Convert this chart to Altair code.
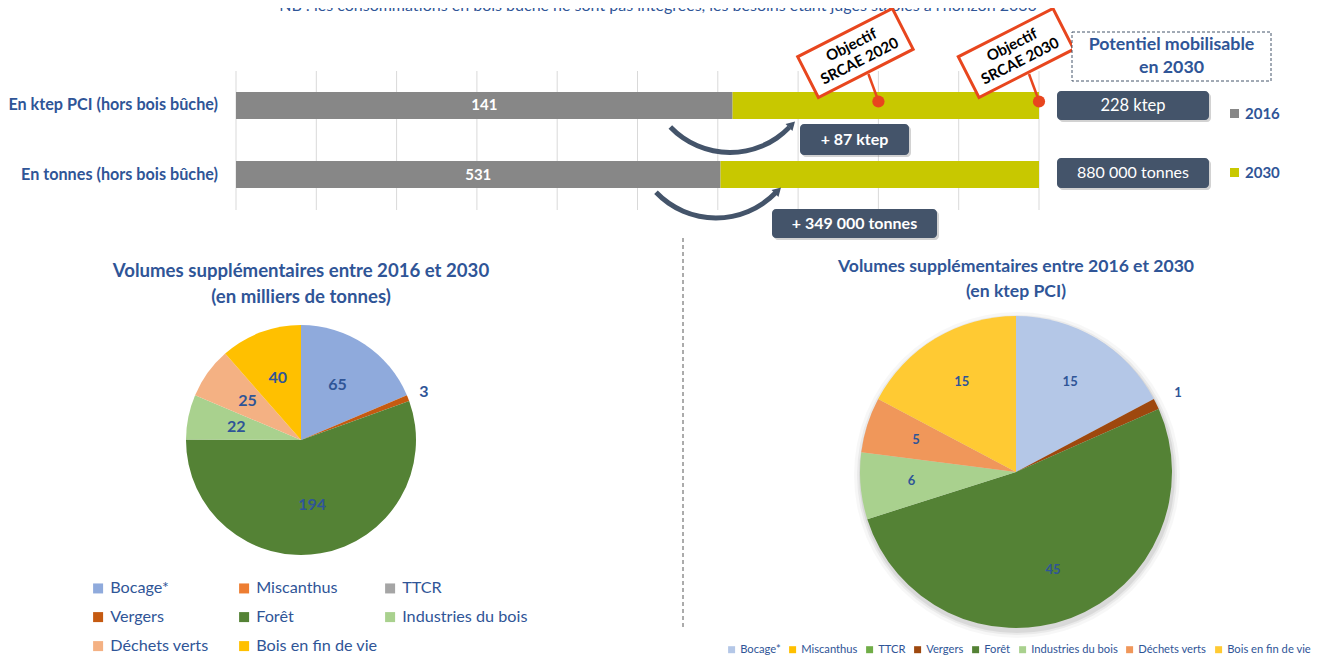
import altair as alt
import pandas as pd

# ---------------- data ----------------
NOTE = "NB : les consommations en bois bûche ne sont pas intégrées, les besoins étant jugés stables à l'horizon 2030"
rows = ["En ktep PCI (hors bois bûche)", "En tonnes (hors bois bûche)"]
years = ["2016", "2030"]
values_2016 = [141, 531]
increase_2030 = [87, 349]
total_labels = ["228 ktep", "880 000 tonnes"]
increase_labels = ["+ 87 ktep", "+ 349 000 tonnes"]
grid_ticks = [0.0, 0.1, 0.2, 0.3, 0.4, 0.5, 0.6, 0.7, 0.8, 0.9, 1.0]
srcae_labels = ["Objectif\nSRCAE 2020", "Objectif\nSRCAE 2030"]
srcae_share = [0.8, 1.0]
potentiel_title = "Potentiel mobilisable\nen 2030"

legend_categories = ["Bocage*", "Miscanthus", "TTCR", "Vergers", "Forêt",
                     "Industries du bois", "Déchets verts", "Bois en fin de vie"]
left_palette = ["#8FAADC", "#ED7D31", "#A5A5A5", "#C55A11", "#548235",
                "#A9D18E", "#F4B183", "#FFC000"]
right_palette = ["#B4C7E7", "#FFC000", "#70AD47", "#9E480E", "#548235",
                 "#A9D18E", "#F0975A", "#FFCA33"]
pie_categories = ["Bocage*", "Vergers", "Forêt", "Industries du bois",
                  "Déchets verts", "Bois en fin de vie"]
tonnes_values = [65, 3, 194, 22, 25, 40]
ktep_values = [15, 1, 45, 6, 5, 15]
left_title = "Volumes supplémentaires entre 2016 et 2030\n(en milliers de tonnes)"
right_title = "Volumes supplémentaires entre 2016 et 2030\n(en ktep PCI)"

# ---------------- styles ----------------
BLUE = "#2F5597"
DARK = "#44546A"
RED = "#E8461E"
GRAY = "#878787"
LIME = "#C8C800"
FONT = "Lato"
RECT_PATH = "M-1,-0.43L1,-0.43L1,0.43L-1,0.43Z"

ONE = pd.DataFrame({"a": [0]})

XS = alt.Scale(domain=[0, 1], range=[228, 1031], nice=False, zero=False)
YS = alt.Scale(domain=rows, range=[84, 180], paddingInner=0.609, paddingOuter=0)

long_records = []
for r, a, b in zip(rows, values_2016, increase_2030):
    long_records.append({"row": r, "year": years[0], "v": a})
    long_records.append({"row": r, "year": years[1], "v": b})
bar_long = pd.DataFrame(long_records)
wide = pd.DataFrame({"row": rows, "v16": values_2016, "inc": increase_2030})
srcae = pd.DataFrame({"share": srcae_share, "label": srcae_labels})

layers = []

# note at top (cut like the reference)
layers.append(alt.Chart(ONE).mark_text(text=NOTE, fontSize=16, color=BLUE, baseline="alphabetic")
              .encode(x=alt.value(650), y=alt.value(3)))

# grid lines
layers.append(alt.Chart(pd.DataFrame({"t": grid_ticks})).mark_rule(color="#D9D9D9", strokeWidth=1)
              .encode(x=alt.X("t:Q", scale=XS, axis=None), y=alt.value(63), y2=alt.value(202)))

# bars
layers.append(alt.Chart(bar_long).mark_bar().encode(
    x=alt.X("v:Q", stack="normalize", scale=XS, axis=None),
    y=alt.Y("row:N", scale=YS, axis=None, sort=rows),
    color=alt.Color("year:N", scale=alt.Scale(domain=years, range=[GRAY, LIME]),
                    legend=alt.Legend(title=None, orient="none", legendX=1219, legendY=98,
                                      symbolType="square", symbolSize=81, symbolStrokeWidth=0,
                                      labelFontSize=15, labelFontWeight="bold", labelColor=BLUE,
                                      rowPadding=43, padding=0, labelOffset=3)),
    order=alt.Order("year:N", sort="ascending"),
))

# values inside the 2016 bars
layers.append(alt.Chart(wide).transform_calculate(mid="datum.v16 / (datum.v16 + datum.inc) / 2")
              .mark_text(color="white", fontWeight="bold", fontSize=15)
              .encode(x=alt.X("mid:Q", scale=XS, axis=None),
                      y=alt.Y("row:N", scale=YS, axis=None, sort=rows),
                      text="v16:Q"))

# row labels
layers.append(alt.Chart(wide).mark_text(align="right", fontWeight="bold", fontSize=16.2, color=BLUE)
              .encode(x=alt.value(210), y=alt.Y("row:N", scale=YS, axis=None, sort=rows), text="row:N"))

# SRCAE objectives
layers.append(alt.Chart(srcae).mark_rule(color=RED, strokeWidth=2.5, xOffset=-10)
              .encode(x=alt.X("share:Q", scale=XS, axis=None), x2=alt.X2("share"),
                      y=alt.value(66), y2=alt.value(93)))
layers.append(alt.Chart(srcae).mark_circle(size=150, color=RED, opacity=1)
              .encode(x=alt.X("share:Q", scale=XS, axis=None), y=alt.value(93.5)))
layers.append(alt.Chart(srcae).mark_point(shape=RECT_PATH, size=11300, angle=333, filled=True,
                                          fill="white", stroke=RED, strokeWidth=3, opacity=1,
                                          xOffset=-23)
              .encode(x=alt.X("share:Q", scale=XS, axis=None), y=alt.value(45)))
layers.append(alt.Chart(srcae).mark_text(angle=333, fontSize=15, fontWeight="bold", lineBreak="\n",
                                         lineHeight=18, color="black", xOffset=-27)
              .encode(x=alt.X("share:Q", scale=XS, axis=None), y=alt.value(37), text="label:N"))


# curved arrows
def arrow(cx, cy, r, hx, hy):
    arc = alt.Chart(ONE).mark_arc(theta=2.34, theta2=3.95, radius=r + 2.5, radius2=r - 2.5,
                                  color=DARK).encode(x=alt.value(cx), y=alt.value(cy))
    head = alt.Chart(ONE).mark_point(shape="triangle-up", filled=True, size=95, angle=45,
                                     color=DARK, opacity=1).encode(x=alt.value(hx), y=alt.value(hy))
    return [arc, head]


layers += arrow(722, 62, 82.5, 784, 116.5)
layers += arrow(708, 127, 83, 770, 182.5)


# dark label boxes
def dark_box(x1, y1, x2, y2, label, bold, size):
    shadow = alt.Chart(ONE).mark_rect(cornerRadius=4, color="#7F7F7F", opacity=0.35).encode(
        x=alt.value(x1 + 2), x2=alt.value(x2 + 2), y=alt.value(y1 + 2), y2=alt.value(y2 + 2))
    rect = alt.Chart(ONE).mark_rect(cornerRadius=4, color=DARK, opacity=1).encode(
        x=alt.value(x1), x2=alt.value(x2), y=alt.value(y1), y2=alt.value(y2))
    txt = alt.Chart(ONE).mark_text(text=label, color="white", fontSize=size,
                                   fontWeight="bold" if bold else "normal").encode(
        x=alt.value((x1 + x2) / 2), y=alt.value((y1 + y2) / 2))
    return [shadow, rect, txt]


layers += dark_box(792, 116, 901, 147, increase_labels[0], True, 16)
layers += dark_box(764, 201, 929, 230, increase_labels[1], True, 16)
layers += dark_box(1049, 83, 1201, 112, total_labels[0], False, 16.5)
layers += dark_box(1049, 150, 1201, 180, total_labels[1], False, 16)

# "Potentiel mobilisable" dashed box
layers.append(alt.Chart(ONE).mark_rect(fill="white", stroke=DARK, strokeDash=[3, 2], strokeWidth=1)
              .encode(x=alt.value(1064), x2=alt.value(1263), y=alt.value(24), y2=alt.value(73)))
layers.append(alt.Chart(ONE).mark_text(text=potentiel_title, lineBreak="\n", lineHeight=23,
                                       fontSize=17.8, fontWeight="bold", color=BLUE)
              .encode(x=alt.value(1163.5), y=alt.value(36.5)))

# divider
layers.append(alt.Chart(ONE).mark_rule(color="#595959", strokeDash=[4, 3], strokeWidth=1)
              .encode(x=alt.value(675), y=alt.value(230), y2=alt.value(622)))


# pies
def pie(values, palette, cx, cy, R, legend, r_in, r_out, lsize, title, tsize, ty, shadow=False):
    df = pd.DataFrame({"cat": pie_categories, "v": values, "i": list(range(len(values)))})
    base = (alt.Chart(df)
            .transform_window(cum="sum(v)", sort=[alt.SortField("i", order="ascending")])
            .transform_joinaggregate(total="sum(v)")
            .transform_calculate(a0="(datum.cum - datum.v) / datum.total * 2 * PI",
                                 a1="datum.cum / datum.total * 2 * PI",
                                 mid="(datum.cum - datum.v / 2) / datum.total * 2 * PI",
                                 share="datum.v / datum.total"))
    out = []
    if shadow:
        for rr, op in [(163, 0.03), (160, 0.05), (158, 0.07)]:
            out.append(alt.Chart(ONE).mark_arc(theta=0, theta2=6.2832, radius=rr, color="#000000",
                                               opacity=op)
                       .encode(x=alt.value(cx + 1), y=alt.value(cy + 3)))
    out.append(base.mark_arc(radius=R, strokeWidth=0).encode(
        theta=alt.Theta("a0:Q", scale=None), theta2="a1:Q",
        x=alt.value(cx), y=alt.value(cy),
        color=alt.Color("cat:N", scale=alt.Scale(domain=legend_categories, range=palette),
                        legend=legend)))
    out.append(base.transform_filter("datum.share >= 0.02").mark_text(
        radius=r_in, fontSize=lsize, fontWeight="bold", color=BLUE).encode(
        theta=alt.Theta("mid:Q", scale=None), x=alt.value(cx), y=alt.value(cy), text="v:Q"))
    out.append(base.transform_filter("datum.share < 0.02").mark_text(
        radius=r_out, fontSize=lsize, fontWeight="bold", color=BLUE).encode(
        theta=alt.Theta("mid:Q", scale=None), x=alt.value(cx), y=alt.value(cy), text="v:Q"))
    out.append(alt.Chart(ONE).mark_text(text=title, lineBreak="\n", lineHeight=tsize + 7,
                                        fontSize=tsize, fontWeight="bold", color=BLUE)
               .encode(x=alt.value(cx), y=alt.value(ty)))
    return out


left_legend = alt.Legend(title=None, orient="none", legendX=82, legendY=572, columns=3,
                         direction="horizontal", gridAlign="all", columnPadding=0, rowPadding=12,
                         symbolType="square", symbolSize=100, symbolStrokeWidth=0,
                         labelFontSize=16.2, labelColor=BLUE, padding=0, labelLimit=300,
                         labelOffset=4)
right_legend = alt.Legend(title=None, orient="none", legendX=718, legendY=636,
                          direction="horizontal", columns=8, symbolType="square", symbolSize=49,
                          symbolStrokeWidth=0, labelFontSize=11.2, labelColor=BLUE,
                          columnPadding=6, padding=0, labelOffset=3, labelLimit=300)

layers += pie(tonnes_values, left_palette, 293, 432, 115, left_legend, 66, 132, 16,
              left_title, 18.6, 263)
layers += pie(ktep_values, right_palette, 1008, 464, 156, right_legend, 105, 180, 13,
              right_title, 17.6, 259, shadow=True)

chart = (alt.layer(*layers)
         .properties(width=1306, height=649, padding=0,
                     autosize=alt.AutoSizeParams(type="none"))
         .resolve_scale(color="independent")
         .configure(font=FONT)
         .configure_view(stroke=None))

chart.save("out.html", embed_options={"renderer": "svg", "actions": False})
